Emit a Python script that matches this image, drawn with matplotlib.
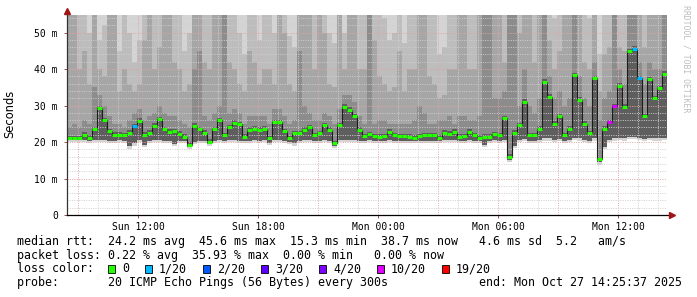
import numpy as np
import matplotlib.pyplot as plt
from matplotlib.patches import Rectangle

# 30 h window ending Mon 14:25:37, hours counted from Sun 00:00, one column per 15 min
start_h = 8.427
step_h = 0.25

# median rtt per column (ms)
med = [21.0, 21.0, 21.0, 22.0, 21.2, 23.5, 29.2, 26.0, 23.0, 22.0,
       22.0, 21.8, 22.5, 24.3, 25.8, 22.0, 22.6, 24.5, 26.2, 23.5,
       22.8, 23.0, 22.2, 21.5, 19.2, 24.5, 23.5, 22.5, 20.0, 23.5,
       26.0, 21.8, 24.0, 25.2, 24.8, 21.5, 23.3, 23.7, 23.3, 23.7,
       21.0, 25.4, 25.4, 23.0, 21.0, 22.4, 22.4, 23.3, 24.0, 21.9,
       22.4, 24.6, 23.3, 19.6, 24.6, 29.6, 28.8, 27.0, 23.3, 21.6,
       22.1, 21.6, 21.4, 21.6, 22.8, 21.9, 21.6, 21.6, 21.4, 21.2,
       21.6, 21.8, 21.9, 21.9, 21.1, 22.5, 22.3, 22.8, 21.4, 21.6,
       22.8, 21.9, 21.2, 21.4, 21.4, 22.1, 21.9, 26.5, 16.0, 22.5,
       24.6, 31.0, 21.9, 21.9, 23.7, 36.5, 32.4, 25.0, 27.0, 21.9,
       23.7, 38.3, 31.5, 25.0, 22.4, 37.5, 15.3, 23.7, 25.4, 29.8,
       35.4, 29.6, 44.8, 45.6, 37.5, 27.0, 37.2, 32.0, 34.7, 38.7]

# lowest ping per column (ms)
lo = [20.5, 20.5, 20.5, 20.5, 20.4, 20.5, 20.6, 20.5, 20.4, 20.4,
      20.5, 20.4, 18.8, 19.6, 20.5, 19.2, 20.4, 20.5, 20.6, 20.4,
      20.4, 19.4, 20.4, 20.3, 18.6, 20.0, 20.4, 20.4, 19.4, 20.4,
      20.6, 20.4, 20.5, 20.6, 20.4, 20.2, 20.4, 20.5, 20.4, 20.5,
      19.8, 20.6, 20.6, 20.4, 20.0, 19.6, 20.4, 20.5, 20.5, 20.4,
      20.4, 20.6, 20.4, 19.0, 20.5, 20.6, 20.6, 20.5, 20.4, 20.4,
      20.5, 20.4, 20.4, 20.4, 20.5, 20.4, 20.4, 20.4, 20.4, 20.3,
      20.4, 20.4, 20.4, 20.4, 20.3, 20.5, 20.5, 20.5, 20.4, 20.4,
      20.5, 20.4, 20.3, 19.2, 20.4, 20.5, 20.4, 20.6, 15.2, 19.0,
      20.6, 20.8, 20.4, 20.4, 20.5, 21.0, 21.0, 20.6, 20.8, 20.4,
      20.5, 21.2, 21.0, 20.6, 20.4, 21.0, 14.4, 18.6, 20.6, 21.0,
      21.2, 21.0, 21.5, 21.5, 21.2, 20.8, 21.2, 21.0, 21.0, 21.2]

# upper pings: ~60th, ~75th, ~90th percentile and max (ms)
up1 = [24, 25, 24, 26, 25, 35, 33, 30, 27, 25,
       25, 24, 26, 28, 29, 26, 27, 28, 30, 28,
       27, 27, 26, 25, 24, 40, 45, 27, 26, 28,
       30, 57, 28, 29, 28, 25, 27, 27, 27, 27,
       25, 29, 29, 27, 25, 26, 45, 30, 28, 26,
       26, 28, 27, 25, 29, 33, 33, 31, 27, 25,
       55, 25, 26, 26, 25, 25, 25, 25, 25, 26,
       30, 28, 25, 25, 26, 26, 27, 25, 27, 27,
       26, 26, 27, 56, 56, 32, 32, 34, 58, 57,
       30, 40, 30, 28, 32, 56, 38, 32, 34, 30,
       32, 60, 38, 32, 30, 42, 26, 32, 34, 60,
       40, 36, 56, 60, 42, 36, 42, 40, 40, 56]

up2 = [56, 58, 40, 45, 36, 60, 40, 38, 56, 55,
       34, 40, 36, 34, 36, 48, 56, 40, 46, 57,
       56, 42, 40, 34, 36, 60, 60, 42, 40, 55,
       56, 60, 42, 40, 36, 34, 45, 42, 36, 40,
       40, 36, 55, 50, 36, 34, 60, 58, 55, 40,
       55, 50, 36, 35, 57, 40, 56, 55, 40, 40,
       60, 48, 38, 36, 34, 35, 45, 34, 40, 40,
       58, 55, 38, 36, 32, 33, 40, 40, 56, 55,
       40, 40, 55, 60, 60, 58, 57, 42, 60, 60,
       50, 58, 55, 42, 56, 60, 48, 40, 45, 57,
       56, 62, 55, 42, 40, 58, 34, 44, 46, 62,
       46, 45, 60, 62, 56, 46, 58, 57, 55, 60]

up3 = [60, 62, 60, 58, 50, 62, 48, 52, 60, 60,
       45, 60, 50, 42, 48, 60, 60, 56, 60, 60,
       60, 58, 57, 45, 50, 62, 62, 56, 56, 60,
       60, 62, 57, 56, 50, 44, 60, 58, 48, 57,
       56, 50, 60, 60, 49, 46, 62, 60, 60, 57,
       60, 60, 50, 47, 60, 50, 60, 60, 57, 57,
       62, 60, 55, 54, 48, 50, 60, 47, 58, 57,
       60, 60, 56, 55, 44, 46, 57, 58, 60, 60,
       57, 56, 60, 62, 62, 60, 60, 56, 62, 62,
       60, 60, 60, 57, 60, 62, 60, 54, 60, 60,
       60, 64, 60, 55, 54, 60, 44, 57, 56, 64,
       55, 56, 62, 64, 60, 57, 60, 60, 60, 62]

p_max = [70, 72, 68, 70, 66, 75, 70, 68, 72, 70,
         66, 70, 68, 64, 66, 72, 74, 68, 70, 72,
         70, 68, 70, 64, 66, 76, 78, 68, 68, 70,
         72, 80, 70, 68, 66, 62, 70, 70, 66, 68,
         68, 66, 72, 70, 64, 64, 78, 74, 72, 68,
         72, 70, 66, 64, 72, 68, 72, 70, 68, 68,
         76, 70, 68, 68, 64, 66, 70, 64, 68, 68,
         74, 72, 68, 68, 62, 64, 68, 68, 72, 72,
         68, 68, 72, 78, 78, 74, 74, 70, 80, 80,
         72, 76, 72, 68, 72, 80, 74, 66, 72, 72,
         72, 84, 74, 68, 66, 76, 60, 70, 70, 84,
         72, 70, 80, 84, 76, 70, 76, 74, 72, 80]

# lost pings (of 20) per column
loss = [0, 0, 0, 0, 0, 0, 0, 0, 0, 0,
        0, 0, 0, 1, 0, 0, 0, 0, 0, 0,
        0, 0, 0, 0, 0, 0, 0, 0, 0, 0,
        0, 0, 0, 0, 0, 0, 0, 0, 0, 0,
        0, 0, 0, 0, 0, 0, 0, 0, 0, 0,
        0, 0, 0, 0, 0, 0, 0, 0, 0, 0,
        0, 0, 0, 0, 0, 0, 0, 0, 0, 0,
        0, 0, 0, 0, 0, 0, 0, 0, 0, 0,
        0, 0, 0, 0, 0, 0, 0, 0, 0, 0,
        0, 0, 0, 0, 0, 0, 0, 0, 0, 0,
        0, 0, 0, 0, 0, 0, 0, 0, 10, 10,
        0, 0, 0, 1, 1, 0, 0, 0, 0, 0]

tick_hours = [12, 18, 24, 30, 36]
tick_labels = ["Sun 12:00", "Sun 18:00", "Mon 00:00", "Mon 06:00", "Mon 12:00"]
y_ticks = [0, 10, 20, 30, 40, 50]
y_labels = ["0", "10 m", "20 m", "30 m", "40 m", "50 m"]

loss_labels = ["0", "1/20", "2/20", "3/20", "4/20", "10/20", "19/20"]
loss_steps = [0, 1, 2, 3, 4, 10, 19]
loss_colors = ["#26ff00", "#00b8ff", "#0059ff", "#5e00ff", "#7e00ff", "#dd00ff", "#ff0000"]

legend_rows = [
    "median rtt:  24.2 ms avg  45.6 ms max  15.3 ms min  38.7 ms now   4.6 ms sd  5.2   am/s",
    "packet loss: 0.22 % avg  35.93 % max  0.00 % min   0.00 % now",
    "loss color:",
    "probe:       20 ICMP Echo Pings (56 Bytes) every 300s",
]
end_text = "end: Mon Oct 27 14:25:37 2025"

W, H = 697, 297
MONO = "DejaVu Sans Mono"
fig = plt.figure(figsize=(W / 100, H / 100), dpi=100)
fig.patch.set_facecolor("white")
ax = fig.add_axes([67 / W, 1 - 215 / H, 600 / W, 200 / H])
ax.set_xlim(start_h, start_h + 30)
ax.set_ylim(0, 54.8)

n = len(med)
edges = start_h + step_h * np.arange(n + 1)
med_a = np.array(med)
lo_a = np.array(lo)


def band(bottom, top, color):
    b = np.append(bottom, bottom[-1])
    t = np.append(top, top[-1])
    ax.fill_between(edges, b, t, step="post", color=color, lw=0, zorder=1)


# smoke, widest/lightest first
band(lo_a - 0.6, np.array(p_max), "#d4d4d4")
band(lo_a, np.array(up3), "#bdbdbd")
band(lo_a, np.array(up2), "#a6a6a6")
band(lo_a, np.array(up1), "#8c8c8c")
band(lo_a, med_a + 0.7, "#5e5e5e")

# grid
minor_c = "#cfcfcf"
major_c = "#e3a3a3"
dots = (0, (1, 1.4))
for h in range(9, 39):
    ax.axvline(h, color=major_c if h % 3 == 0 else minor_c, lw=0.7, ls=dots, zorder=2)
for v in range(2, 55, 2):
    ax.axhline(v, color=major_c if v % 10 == 0 else minor_c, lw=0.7, ls=dots, zorder=2)

# median with loss colours
seg_colors = []
for l in loss:
    k = max(j for j, s in enumerate(loss_steps) if l >= s)
    seg_colors.append(loss_colors[k])
ax.step(edges, np.append(med_a, med_a[-1]), where="post", color="#1c1c1c", lw=0.8, zorder=3)
ax.hlines(med_a, edges[:-1], edges[1:], colors=seg_colors, lw=2.2, zorder=4)

# axes
for s in ax.spines.values():
    s.set_visible(False)
ax.plot([0, 0], [0, 1.01], color="#333333", lw=0.9, transform=ax.transAxes, clip_on=False, zorder=5)
ax.plot([0, 1.004], [0, 0], color="black", lw=0.9, transform=ax.transAxes, clip_on=False, zorder=5)
ax.plot([0], [1.022], marker="^", ms=4, color="#a01515", transform=ax.transAxes, clip_on=False, zorder=6)
ax.plot([1.008], [0], marker=">", ms=4, color="#a01515", transform=ax.transAxes, clip_on=False, zorder=6)

ax.set_xticks(tick_hours)
ax.set_xticklabels(tick_labels, family=MONO, fontsize=7)
ax.set_yticks(y_ticks)
ax.set_yticklabels(y_labels, family=MONO, fontsize=7)
ax.tick_params(axis="x", length=2.5, width=0.7, color="#a05050", pad=2.5)
ax.tick_params(axis="y", length=2.5, width=0.7, color="#a05050", pad=4)

fig.text(10 / W, 1 - 114 / H, "Seconds", rotation=90, ha="center", va="center",
         family="DejaVu Sans", fontsize=8.3)
fig.text(686 / W, 1 - 5 / H, "RRDTOOL / TOBI OETIKER", rotation=270, ha="center", va="top",
         family=MONO, fontsize=5.9, color="#bdbdbd")

# legend below the graph
fs = 8.37
cw = 7.0
x0 = 16.7
base = [245, 258.7, 272.5, 286.2]
for row, txt in enumerate(legend_rows):
    fig.text(x0 / W, 1 - base[row] / H, txt, family=MONO, fontsize=fs, va="baseline")
fig.text((x0 + 66 * cw) / W, 1 - base[3] / H, end_text, family=MONO, fontsize=fs, va="baseline")

bx = 108.0
for lab, col in zip(loss_labels, loss_colors):
    fig.add_artist(Rectangle((bx / W, 1 - 273.3 / H), 7 / W, 8 / H, transform=fig.transFigure,
                             facecolor=col, edgecolor="black", lw=0.6))
    fig.text((bx + 14) / W, 1 - base[2] / H, lab, family=MONO, fontsize=fs, va="baseline")
    bx += (len(lab) + 4) * cw + 2

fig.savefig("out.png", dpi=100, facecolor="white")
